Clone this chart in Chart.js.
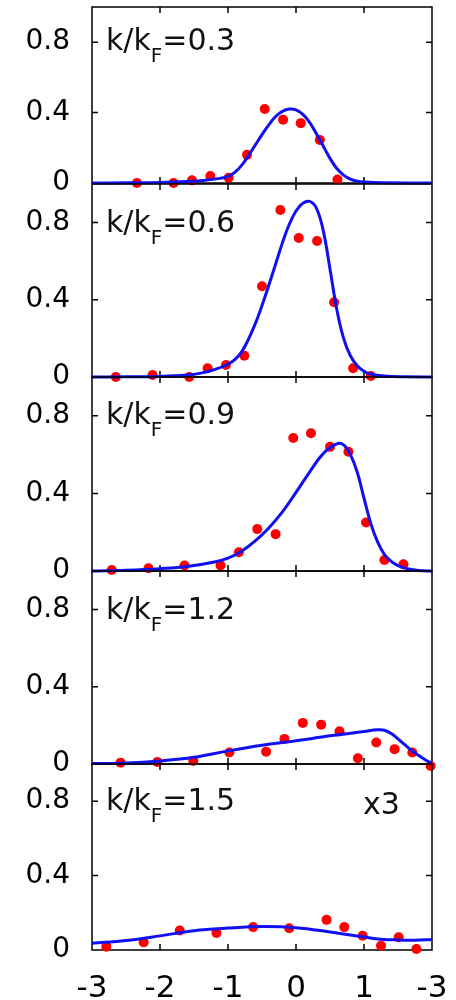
<!DOCTYPE html>
<html>
<head>
<meta charset="utf-8">
<script src="https://cdn.jsdelivr.net/npm/chart.js@4.4.0/dist/chart.umd.min.js"></script>
<style>
    body{ margin:0; background:#fff; width:456px; height:1000px; position:relative; overflow:hidden; }
    canvas{ position:absolute; left:0; }
</style>
</head>
<body>
<canvas id="p1"></canvas>
<canvas id="p2"></canvas>
<canvas id="p3"></canvas>
<canvas id="p4"></canvas>
<canvas id="p5"></canvas>
<script>
// axes
const xTicks = [-3, -2, -1, 0, 1, 2]
const xTickLabels = ['-3', '-2', '-1', '0', '1', '-3']
const yTicks = [0, 0.4, 0.8]
const yTickLabels = ['0', '0.4', '0.8']
const kValues = ['0.3', '0.6', '0.9', '1.2', '1.5']

// k/kF = 0.3
const dotX1 = [-2.34, -1.80, -1.53, -1.26, -0.99, -0.72, -0.46, -0.19, 0.07, 0.35, 0.61]
const dotY1 = [0, 0, 0.015, 0.04, 0.03, 0.16, 0.42, 0.36, 0.34, 0.245, 0.02]
const lineX1 = [-3, -2.5, -2, -1.6, -1.4, -1.2, -1, -0.9, -0.8, -0.7, -0.6, -0.5, -0.4, -0.3, -0.2, -0.1, 0, 0.1, 0.2, 0.3, 0.4, 0.5, 0.6, 0.7, 0.8, 0.9, 1.0, 1.3, 2.0, 2.1]
const lineY1 = [0, 0.001, 0.003, 0.008, 0.013, 0.022, 0.037, 0.06, 0.1, 0.155, 0.215, 0.275, 0.33, 0.378, 0.407, 0.42, 0.415, 0.39, 0.345, 0.28, 0.21, 0.14, 0.082, 0.045, 0.022, 0.01, 0.005, 0.001, 0, 0]

// k/kF = 0.6
const dotX2 = [-2.65, -2.11, -1.57, -1.30, -1.03, -0.76, -0.50, -0.23, 0.04, 0.31, 0.56, 0.84, 1.10]
const dotY2 = [0, 0.01, 0, 0.045, 0.062, 0.11, 0.47, 0.865, 0.72, 0.705, 0.387, 0.045, 0.005]
const lineX2 = [-3, -2.5, -2, -1.6, -1.4, -1.2, -1, -0.9, -0.8, -0.7, -0.6, -0.5, -0.4, -0.3, -0.2, -0.1, 0, 0.1, 0.2, 0.3, 0.4, 0.5, 0.6, 0.7, 0.8, 0.9, 1.0, 1.1, 1.3, 1.6, 2.0, 2.1]
const lineY2 = [0, 0.001, 0.003, 0.01, 0.02, 0.038, 0.066, 0.09, 0.13, 0.195, 0.275, 0.37, 0.475, 0.585, 0.695, 0.79, 0.86, 0.9, 0.91, 0.875, 0.76, 0.56, 0.35, 0.2, 0.11, 0.058, 0.03, 0.015, 0.005, 0.001, 0, 0]

// k/kF = 0.9
const dotX3 = [-2.71, -2.17, -1.64, -1.11, -0.84, -0.57, -0.30, -0.04, 0.22, 0.50, 0.77, 1.03, 1.30, 1.58]
const dotY3 = [0.005, 0.014, 0.028, 0.028, 0.097, 0.216, 0.19, 0.686, 0.71, 0.64, 0.615, 0.25, 0.057, 0.035]
const lineX3 = [-3, -2.5, -2, -1.6, -1.2, -1, -0.8, -0.6, -0.4, -0.2, 0, 0.2, 0.4, 0.6, 0.7, 0.8, 0.9, 1.0, 1.1, 1.2, 1.3, 1.4, 1.5, 1.6, 1.8, 2.0, 2.1]
const lineY3 = [0, 0.004, 0.012, 0.023, 0.046, 0.066, 0.102, 0.155, 0.222, 0.305, 0.405, 0.51, 0.605, 0.655, 0.65, 0.6, 0.51, 0.375, 0.245, 0.15, 0.085, 0.05, 0.028, 0.015, 0.003, 0, 0]

// k/kF = 1.2
const dotX4 = [-2.58, -2.04, -1.51, -0.98, -0.44, -0.17, 0.10, 0.37, 0.64, 0.91, 1.18, 1.45, 1.71, 1.98]
const dotY4 = [0.007, 0.01, 0.016, 0.06, 0.064, 0.13, 0.213, 0.204, 0.17, 0.03, 0.111, 0.077, 0.06, -0.01]
const lineX4 = [-3, -2.5, -2, -1.5, -1, -0.5, 0, 0.5, 1.0, 1.2, 1.3, 1.4, 1.5, 1.6, 1.7, 1.8, 1.9, 2.0, 2.2]
const lineY4 = [0.002, 0.005, 0.016, 0.035, 0.068, 0.097, 0.12, 0.146, 0.168, 0.177, 0.175, 0.158, 0.13, 0.1, 0.07, 0.045, 0.022, 0.006, 0.003]

// k/kF = 1.5 (x3)
const dotX5 = [-2.79, -2.24, -1.71, -1.17, -0.63, -0.10, 0.45, 0.71, 0.98, 1.25, 1.51, 1.77]
const dotY5 = [0.018, 0.041, 0.105, 0.092, 0.123, 0.117, 0.162, 0.123, 0.077, 0.023, 0.069, 0.005]
const lineX5 = [-3, -2.5, -2, -1.5, -1, -0.5, 0, 0.5, 1.0, 1.25, 1.5, 1.75, 2.0, 2.05]
const lineY5 = [0.036, 0.051, 0.076, 0.104, 0.118, 0.126, 0.12, 0.097, 0.07, 0.058, 0.054, 0.053, 0.057, 0.058]

const dotsX = [dotX1, dotX2, dotX3, dotX4, dotX5]
const dotsY = [dotY1, dotY2, dotY3, dotY4, dotY5]
const linesX = [lineX1, lineX2, lineX3, lineX4, lineX5]
const linesY = [lineY1, lineY2, lineY3, lineY4, lineY5]

const family = '"DejaVu Sans", sans-serif'
const panelTop = [7, 184, 377, 571, 764]
const panelBottom = [183, 377, 571, 764, 950]
const labelBase = [43, 48, 47, 48, 46]

const zip = (xs, ys) => xs.map((x, i) => ({x, y: ys[i]}))

// box + inward ticks, like gnuplot
const frame = {
    id: 'frame',
    beforeDatasetsDraw(chart){
        const {ctx, chartArea: a, scales: {x, y}} = chart
        ctx.save()
        ctx.strokeStyle = '#000'
        ctx.lineWidth = 1.5
        ctx.strokeRect(a.left, a.top, a.right - a.left, a.bottom - a.top)
        ctx.beginPath()
        xTicks.slice(1, -1).forEach(v =>{
            const px = x.getPixelForValue(v)
            ctx.moveTo(px, a.bottom); ctx.lineTo(px, a.bottom - 6)
            ctx.moveTo(px, a.top); ctx.lineTo(px, a.top + 6)
        })
        yTicks.slice(1).forEach(v =>{
            const py = y.getPixelForValue(v)
            ctx.moveTo(a.left, py); ctx.lineTo(a.left + 6, py)
            ctx.moveTo(a.right, py); ctx.lineTo(a.right - 6, py)
        })
        ctx.stroke()
        ctx.restore()
    }
}

const panelLabel = {
    id: 'panelLabel',
    afterDraw(chart, args, opts){
        const {ctx, chartArea: a} = chart
        const base = a.top + opts.base
        let x = 106
        ctx.save()
        ctx.fillStyle = '#111'
        ctx.textBaseline = 'alphabetic'
        ctx.font = `30px ${family}`
        ctx.fillText('k/k', x, base)
        x += ctx.measureText('k/k').width
        ctx.font = `20px ${family}`
        ctx.fillText('F', x, base + 12)
        x += ctx.measureText('F').width
        ctx.font = `30px ${family}`
        ctx.fillText('=' + opts.k, x, base)
        if(opts.extra){
            ctx.fillText(opts.extra, 363, a.top + 50)
        }
        ctx.restore()
    }
}

const makePanel = (i) =>{
    const last = i === 4
    const canvas = document.getElementById('p' + (i + 1))
    const top = panelTop[i] - 20
    const height = last ? 1000 - top : panelBottom[i] - panelTop[i] + 40
    canvas.width = 456
    canvas.height = height
    canvas.style.top = top + 'px'

    const xScale = {
        type: 'linear', min: -3, max: 2, display: last,
        grid: {display: false, drawTicks: false},
        border: {display: false},
        afterBuildTicks: s =>{ s.ticks = xTicks.map(v => ({value: v})) },
        ticks: {
            autoSkip: false, maxRotation: 0, padding: 20, color: '#000',
            font: {family, size: 31},
            callback: (v, idx) => xTickLabels[idx]
        }
    }
    if(last){
        xScale.afterFit = s =>{ s.height = 50; s.paddingLeft = 0; s.paddingRight = 0 }
    }

    new Chart(canvas, {
        type: 'scatter',
        data: {
            datasets: [
                {
                    data: zip(linesX[i], linesY[i]),
                    showLine: true, borderColor: '#1010f0', borderWidth: 3,
                    pointRadius: 0, tension: 0.4, clip: false
                },
                {
                    data: zip(dotsX[i], dotsY[i]),
                    pointRadius: 5, pointBorderWidth: 0, backgroundColor: '#ff0000', clip: false
                }
            ]
        },
        options: {
            responsive: false,
            animation: false,
            events: [],
            layout: {padding: {top: 20, bottom: last ? 0 : 20, left: 0, right: 24}},
            plugins: {
                legend: {display: false},
                tooltip: {enabled: false},
                panelLabel: {k: kValues[i], base: labelBase[i], extra: last ? 'x3' : ''}
            },
            scales: {
                x: xScale,
                y: {
                    min: 0, max: 1,
                    grid: {display: false, drawTicks: false},
                    border: {display: false},
                    afterBuildTicks: s =>{ s.ticks = yTicks.map(v => ({value: v})) },
                    afterFit: s =>{ s.width = 92; s.paddingTop = 0; s.paddingBottom = 0 },
                    ticks: {
                        padding: 22, color: '#000',
                        font: {family, size: 28},
                        callback: (v, idx) => yTickLabels[idx]
                    }
                }
            }
        },
        plugins: [frame, panelLabel]
    })
}

for(let i = 0; i < 5; i++) makePanel(i)
</script>
</body>
</html>
